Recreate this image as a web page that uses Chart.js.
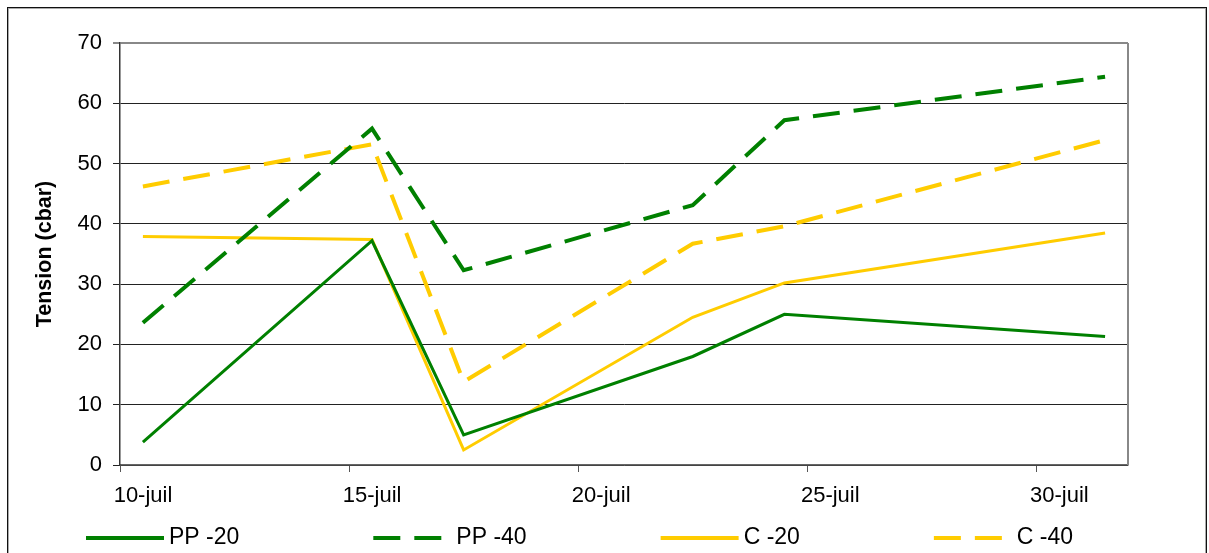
<!DOCTYPE html>
<html lang="fr">

<head>
    <meta charset="UTF-8">
    <title>Tension (cbar)</title>
    <style>
        html, body { margin: 0; padding: 0; background: #fff; overflow: hidden; }
        #wrap { position: relative; width: 1209px; height: 553px; }
        #frame {
            position: absolute; left: 7px; top: 7px; width: 1198px; height: 600px;
            border: 1.5px solid #111; box-shadow: inset 0 0 0 1px #aaa; pointer-events: none;
        }
    </style>
</head>

<body>
    <div id="wrap">
        <canvas id="Chart" width="1209" height="553"></canvas>
        <div id="frame"></div>
    </div>

    <script src="https://cdn.jsdelivr.net/npm/chart.js@4/dist/chart.umd.min.js"></script>
    <script>
        // jours de mesure (juillet)
        const days = [10, 15, 17, 22, 24, 31];

        const pp20 = [3.8, 37.2, 5.0, 18.0, 25.0, 21.3];
        const pp40 = [23.6, 55.8, 32.3, 43.1, 57.2, 64.4];
        const c20 = [37.9, 37.4, 2.5, 24.5, 30.2, 38.5];
        const c40 = [46.2, 53.2, 13.8, 36.7, 39.6, 53.9];

        const tickDays = [10, 15, 20, 25, 30];
        const tickLabels = ["10-juil", "15-juil", "20-juil", "25-juil", "30-juil"];

        const GREEN = "#008000";
        const YELLOW = "#ffcc00";
        const FONT = '"Liberation Sans", Arial, sans-serif';

        const toPoints = (vals) => vals.map((v, i) => ({ x: days[i], y: v }));

        // légende dessinée à la main sous l'axe
        const bottomLegend = {
            id: "bottomLegend",
            afterDraw(chart) {
                const ctx = chart.ctx;
                let x = 86;
                const y = 538;
                ctx.save();
                ctx.font = "23px " + FONT;
                ctx.textBaseline = "middle";
                ctx.fillStyle = "#000";
                chart.data.datasets.forEach((ds) => {
                    ctx.strokeStyle = ds.borderColor;
                    ctx.lineWidth = 4;
                    ctx.lineCap = "butt";
                    ctx.setLineDash(ds.borderDash || []);
                    ctx.beginPath();
                    ctx.moveTo(x, y);
                    ctx.lineTo(x + 78, y);
                    ctx.stroke();
                    ctx.setLineDash([]);
                    ctx.fillText(ds.label, x + 83, y);
                    x += 83 + ctx.measureText(ds.label).width + 134;
                });
                ctx.restore();
            }
        };

        // bord droit de la zone de tracé
        const plotFrame = {
            id: "plotFrame",
            beforeDatasetsDraw(chart) {
                const { ctx, chartArea: a } = chart;
                ctx.save();
                ctx.strokeStyle = "#888";
                ctx.lineWidth = 2;
                ctx.beginPath();
                ctx.moveTo(a.right, a.top);
                ctx.lineTo(a.right, a.bottom);
                ctx.stroke();
                ctx.restore();
            }
        };

        const lineSet = (label, color, vals, dashed) => ({
            label: label,
            data: toPoints(vals),
            borderColor: color,
            backgroundColor: color,
            borderWidth: dashed ? 4 : 3,
            borderDash: dashed ? [27, 14] : [],
            borderJoinStyle: "miter",
            pointRadius: 0,
            tension: 0,
            fill: false,
        });

        const myChart = document.getElementById("Chart").getContext("2d");
        new Chart(myChart, {
            type: "line",
            data: {
                datasets: [
                    lineSet("PP -20", GREEN, pp20, false),
                    lineSet("PP -40", GREEN, pp40, true),
                    lineSet("C -20", YELLOW, c20, false),
                    lineSet("C -40", YELLOW, c40, true),
                ],
            },
            options: {
                responsive: false,
                animation: false,
                devicePixelRatio: 1,
                layout: { padding: { left: 24, right: 81, top: 43, bottom: 0 } },
                plugins: {
                    legend: { display: false },
                    tooltip: { enabled: false },
                },
                scales: {
                    x: {
                        type: "linear",
                        min: 9.5,
                        max: 31.5,
                        // graduations entre les jours, étiquettes au milieu
                        afterBuildTicks: (s) => {
                            s.ticks = tickDays.map((d) => ({ value: d - 0.5 }));
                        },
                        afterFit: (s) => { s.height = 88; },
                        ticks: {
                            autoSkip: false,
                            maxRotation: 0,
                            labelOffset: 23,
                            padding: 11,
                            color: "#000",
                            font: { family: FONT, size: 22 },
                            callback: (v, i) => tickLabels[i],
                        },
                        grid: {
                            drawOnChartArea: false,
                            drawTicks: true,
                            tickLength: 7,
                            tickColor: "#555",
                        },
                        border: { color: "#666", width: 1.5 },
                    },
                    y: {
                        min: 0,
                        max: 70,
                        afterFit: (s) => { s.width = 96; },
                        ticks: {
                            stepSize: 10,
                            padding: 11,
                            color: "#000",
                            font: { family: FONT, size: 22 },
                        },
                        grid: {
                            color: (c) => (c.tick && c.tick.value === 70 ? "#888" : "#222"),
                            lineWidth: (c) => (c.tick && c.tick.value === 70 ? 2 : 1),
                            tickLength: 7,
                        },
                        border: { color: "#333", width: 1.5 },
                        title: {
                            display: true,
                            text: "Tension (cbar)",
                            color: "#000",
                            padding: { top: 8, bottom: 0 },
                            font: { family: FONT, size: 21.5, weight: "bold" },
                        },
                    },
                },
            },
            plugins: [plotFrame, bottomLegend],
        });
    </script>

</body>

</html>
